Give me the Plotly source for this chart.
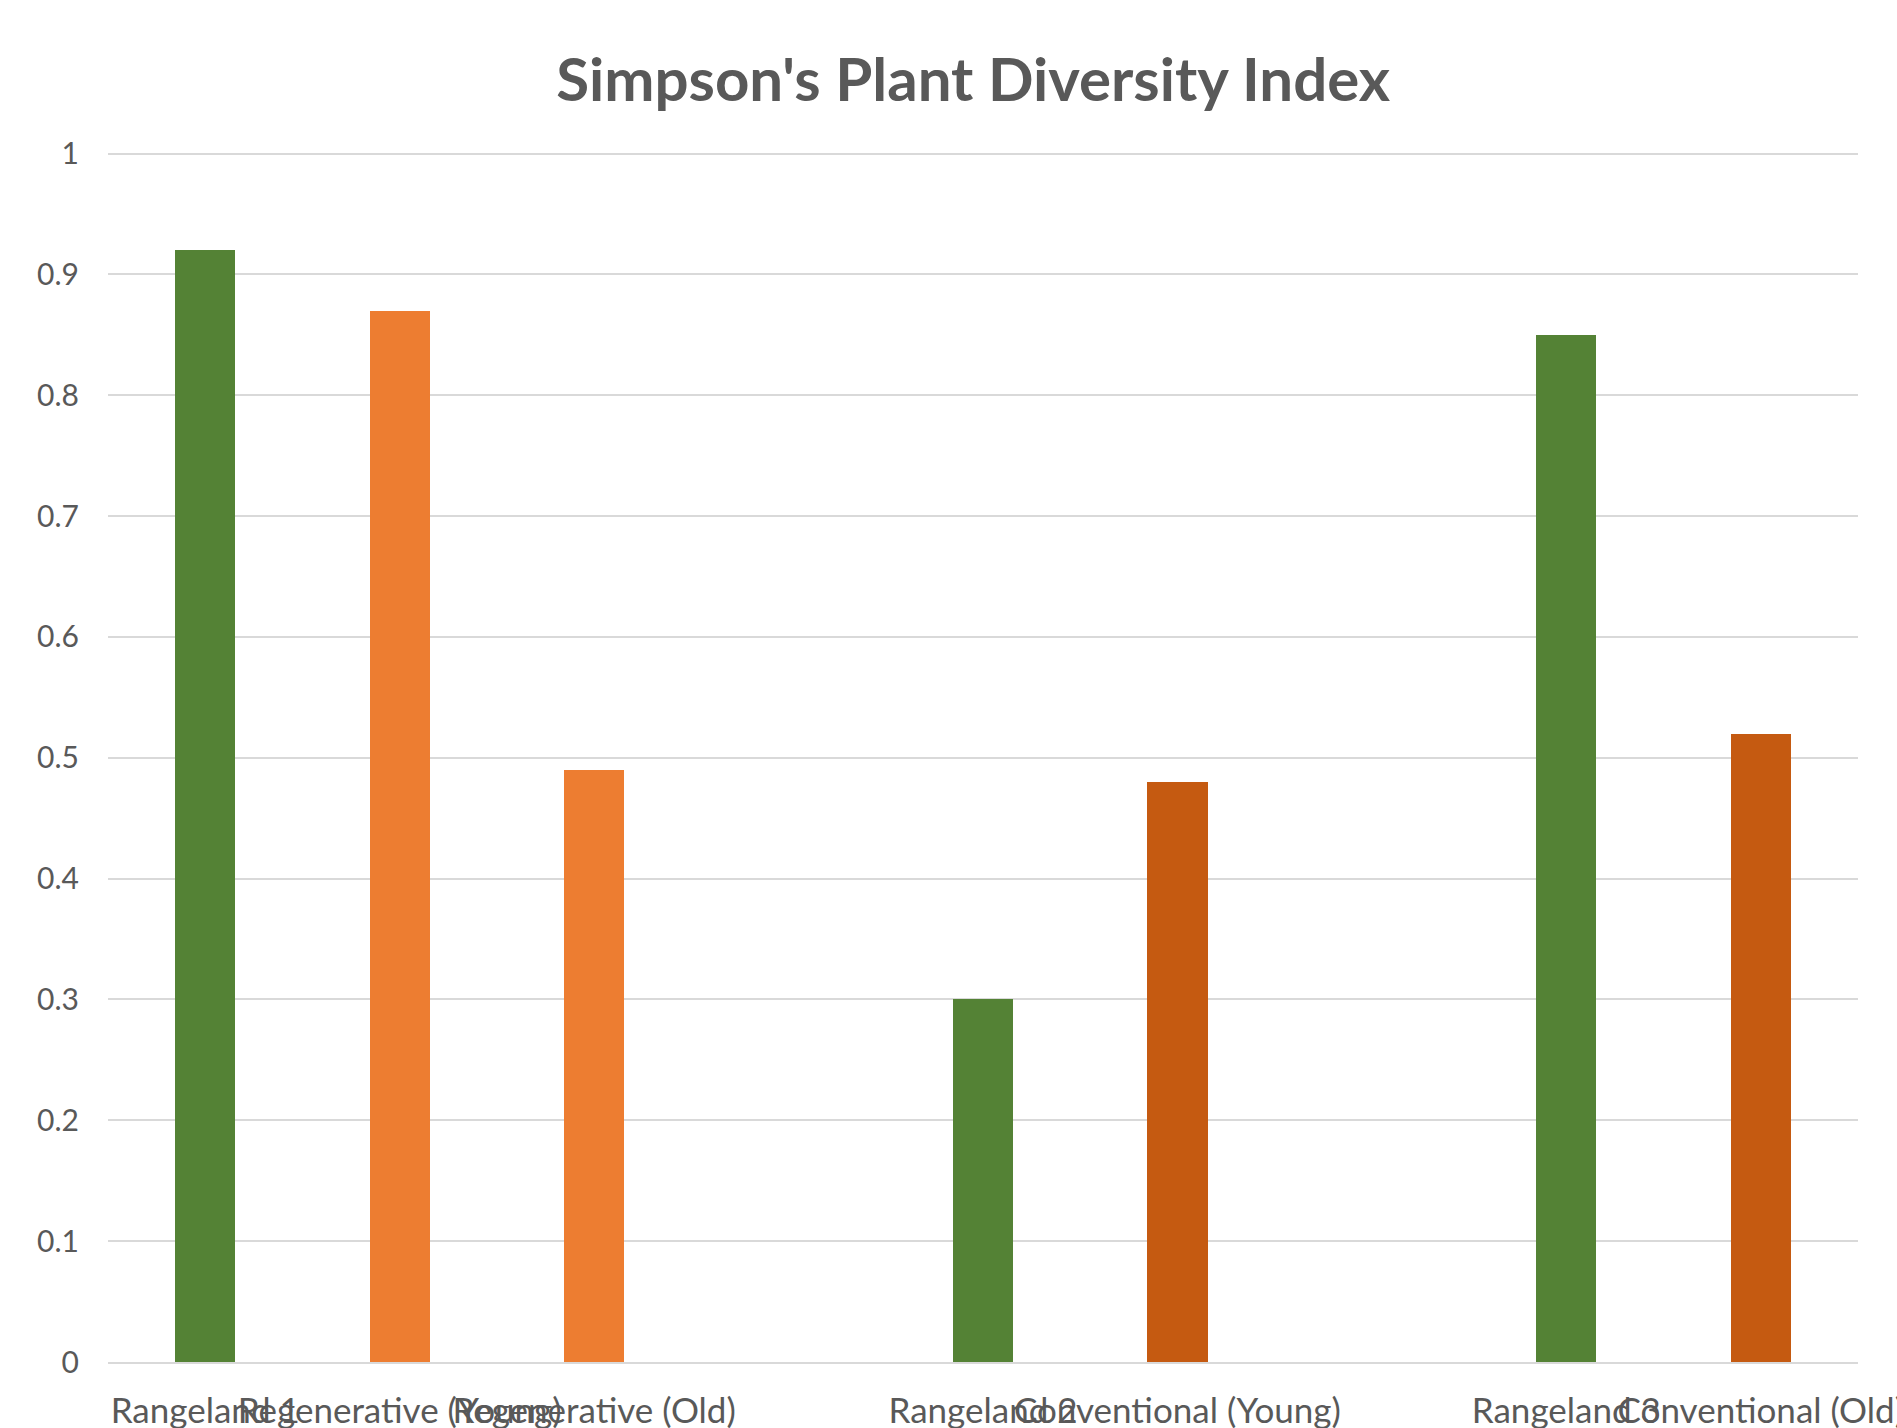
import plotly.graph_objects as go

# Category slots along the x axis (blank slots separate the site groups)
categories = [
    "Rangeland 1", "Regenerative (Young)", "Regenerative (Old)", " ",
    "Rangeland 2", "Conventional (Young)", "  ",
    "Rangeland 3", "Conventional (Old)",
]

# Simpson's diversity index per site
sites = [
    "Rangeland 1", "Regenerative (Young)", "Regenerative (Old)",
    "Rangeland 2", "Conventional (Young)",
    "Rangeland 3", "Conventional (Old)",
]
diversity = [0.92, 0.87, 0.49, 0.30, 0.48, 0.85, 0.52]
land_use = [
    "Rangeland", "Regenerative", "Regenerative",
    "Rangeland", "Conventional",
    "Rangeland", "Conventional",
]

y_ticks = [0, 0.1, 0.2, 0.3, 0.4, 0.5, 0.6, 0.7, 0.8, 0.9, 1]
y_tick_labels = ["0", "0.1", "0.2", "0.3", "0.4", "0.5", "0.6", "0.7", "0.8", "0.9", "1"]

palette = {
    "Rangeland": "#548235",
    "Regenerative": "#ED7D31",
    "Conventional": "#C55A11",
}

TEXT = "#595959"
GRID = "#D9D9D9"
FONT = "Lato"

fig = go.Figure(
    go.Bar(
        x=sites,
        y=diversity,
        width=0.31,
        marker=dict(color=[palette[u] for u in land_use], line=dict(width=0)),
        showlegend=False,
    )
)

fig.update_layout(
    width=1897,
    height=1428,
    margin=dict(l=108, r=39, t=150, b=66),
    paper_bgcolor="white",
    plot_bgcolor="white",
    font=dict(family=FONT, color=TEXT),
    title=dict(
        text="Simpson's Plant Diversity Index",
        x=0.513,
        xanchor="center",
        y=1 - 80 / 1428,
        yanchor="middle",
        font=dict(family=FONT, size=60, color=TEXT, weight=700),
    ),
    bargap=0,
)

fig.update_xaxes(
    type="category",
    categoryorder="array",
    categoryarray=categories,
    tickangle=0,
    tickfont=dict(family=FONT, size=35, color=TEXT),
    ticks="outside",
    ticklen=17,
    tickcolor="rgba(0,0,0,0)",
    showline=True,
    linecolor=GRID,
    linewidth=2,
    showgrid=False,
    automargin=False,
    fixedrange=True,
)

# A little headroom above 1 so the top gridline is drawn
fig.update_yaxes(
    range=[0, 1.003],
    tickvals=y_ticks,
    ticktext=y_tick_labels,
    tickfont=dict(family=FONT, size=30, color=TEXT),
    ticklabelstandoff=28,
    showgrid=True,
    gridcolor=GRID,
    gridwidth=2,
    zeroline=False,
    showline=False,
    automargin=False,
    fixedrange=True,
)

fig.write_html("out.html")
